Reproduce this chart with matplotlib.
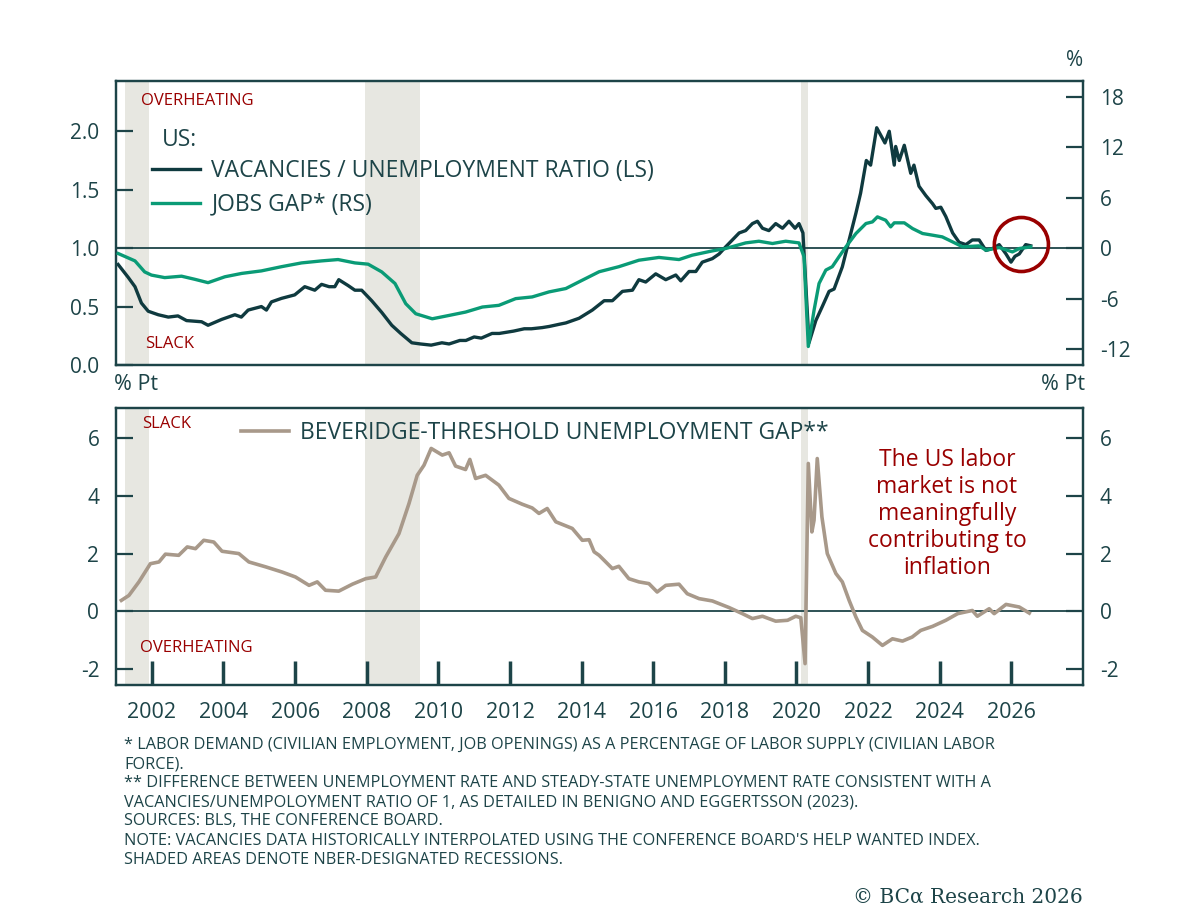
import matplotlib
matplotlib.use("Agg")
import matplotlib.pyplot as plt
from matplotlib.patches import Ellipse

plt.rcParams['font.family'] = ['Open Sans', 'DejaVu Sans']
plt.rcParams['font.weight'] = 'medium'
plt.rcParams['axes.unicode_minus'] = False

# colores
DARK = '#0f3a3f'
GREEN = '#0a9b76'
TAN = '#a8998a'
RED = '#990000'
SPINE = '#1d4448'
SHADE = '#e7e7e1'

# recesiones NBER (año decimal)
rec_start = [2001.25, 2007.95, 2020.12]
rec_end = [2001.92, 2009.50, 2020.33]

# ratio vacantes / desempleo (eje izq.)
vu_t = [2001.06, 2001.34, 2001.53, 2001.71, 2001.90, 2002.18, 2002.46, 2002.73, 2002.97,
        2003.39, 2003.57, 2003.95, 2004.32, 2004.50, 2004.69, 2005.06, 2005.20, 2005.34,
        2005.62, 2005.99, 2006.27, 2006.55, 2006.74, 2006.95, 2007.11, 2007.22, 2007.48,
        2007.67, 2007.86, 2008.14, 2008.42, 2008.70, 2008.95, 2009.26, 2009.50, 2009.80,
        2010.10, 2010.30, 2010.60, 2010.77, 2011.00, 2011.20, 2011.50, 2011.70, 2012.10,
        2012.40, 2012.60, 2012.90, 2013.10, 2013.40, 2013.56, 2013.93, 2014.30, 2014.63,
        2014.86, 2015.14, 2015.42, 2015.60, 2015.79, 2016.07, 2016.35, 2016.63, 2016.77,
        2017.00, 2017.19, 2017.37, 2017.65, 2017.84, 2018.02, 2018.40, 2018.58, 2018.77,
        2018.91, 2019.05, 2019.23, 2019.42, 2019.61, 2019.79, 2019.96, 2020.07, 2020.18,
        2020.35, 2020.54, 2020.72, 2020.91, 2021.05, 2021.28, 2021.47, 2021.66, 2021.79,
        2021.95, 2022.07, 2022.24, 2022.47, 2022.59, 2022.73, 2022.77, 2022.87, 2023.01,
        2023.19, 2023.28, 2023.42, 2023.61, 2023.80, 2023.89, 2024.03, 2024.17, 2024.36,
        2024.54, 2024.73, 2024.91, 2025.10, 2025.29, 2025.50, 2025.66, 2025.85, 2025.99,
        2026.10, 2026.22, 2026.40, 2026.54]
vu = [0.86, 0.75, 0.67, 0.53, 0.46, 0.43, 0.41, 0.42, 0.38,
      0.37, 0.34, 0.39, 0.43, 0.41, 0.47, 0.50, 0.47, 0.54,
      0.57, 0.60, 0.67, 0.64, 0.69, 0.67, 0.67, 0.73, 0.68,
      0.64, 0.64, 0.55, 0.45, 0.34, 0.27, 0.19, 0.18, 0.17,
      0.19, 0.18, 0.21, 0.21, 0.24, 0.23, 0.27, 0.27, 0.29,
      0.31, 0.31, 0.32, 0.33, 0.35, 0.36, 0.40, 0.47, 0.55,
      0.55, 0.63, 0.64, 0.73, 0.71, 0.78, 0.73, 0.77, 0.72,
      0.80, 0.80, 0.88, 0.91, 0.95, 1.01, 1.13, 1.15, 1.21,
      1.23, 1.17, 1.15, 1.21, 1.17, 1.23, 1.17, 1.21, 1.13,
      0.19, 0.38, 0.50, 0.63, 0.65, 0.84, 1.07, 1.30, 1.47,
      1.75, 1.71, 2.03, 1.90, 2.00, 1.71, 1.87, 1.75, 1.88,
      1.64, 1.71, 1.53, 1.45, 1.38, 1.34, 1.35, 1.27, 1.13,
      1.05, 1.03, 1.07, 1.07, 0.98, 1.00, 1.03, 0.95, 0.88,
      0.93, 0.95, 1.03, 1.02]

# jobs gap, % (eje der.)
jg_t = [2001.06, 2001.53, 2001.80, 2001.99, 2002.36, 2002.83, 2003.20, 2003.57, 2004.04,
        2004.51, 2005.06, 2005.62, 2006.18, 2006.74, 2007.20, 2007.67, 2008.04, 2008.42,
        2008.79, 2009.09, 2009.37, 2009.83, 2010.30, 2010.76, 2011.23, 2011.69, 2012.16,
        2012.62, 2013.09, 2013.56, 2013.93, 2014.49, 2015.04, 2015.60, 2016.16, 2016.72,
        2017.09, 2017.65, 2018.02, 2018.58, 2018.95, 2019.33, 2019.70, 2020.07, 2020.21,
        2020.33, 2020.49, 2020.63, 2020.82, 2021.00, 2021.19, 2021.38, 2021.66, 2021.94,
        2022.12, 2022.26, 2022.49, 2022.63, 2022.73, 2023.01, 2023.24, 2023.52, 2023.80,
        2024.07, 2024.36, 2024.64, 2025.10, 2025.29, 2025.66, 2026.03, 2026.22, 2026.54]
jg = [-0.63, -1.51, -2.82, -3.20, -3.50, -3.33, -3.70, -4.10, -3.40,
      -3.00, -2.70, -2.20, -1.75, -1.51, -1.35, -1.75, -1.90, -2.82,
      -4.20, -6.60, -7.80, -8.40, -8.00, -7.60, -7.00, -6.80, -6.00,
      -5.80, -5.20, -4.80, -4.00, -2.80, -2.20, -1.43, -1.10, -1.35,
      -0.83, -0.32, -0.04, 0.63, 0.83, 0.56, 0.83, 0.63, -1.00,
      -11.70, -7.40, -4.20, -2.60, -2.20, -1.00, 0.16, 1.75, 2.94,
      3.13, 3.73, 3.33, 2.54, 3.02, 3.02, 2.34, 1.75, 1.55,
      1.35, 0.75, 0.16, 0.28, -0.24, 0.08, -0.44, -0.04, 0.16]

# brecha de desempleo Beveridge, pp
bv_t = [2001.15, 2001.36, 2001.64, 2001.96, 2002.20, 2002.38, 2002.75, 2002.99, 2003.22,
        2003.45, 2003.73, 2003.96, 2004.43, 2004.71, 2005.18, 2005.64, 2006.01, 2006.39,
        2006.62, 2006.85, 2007.22, 2007.60, 2007.97, 2008.25, 2008.53, 2008.90, 2009.18,
        2009.41, 2009.60, 2009.80, 2010.11, 2010.30, 2010.48, 2010.76, 2010.88, 2011.04,
        2011.32, 2011.69, 2011.97, 2012.34, 2012.62, 2012.81, 2013.04, 2013.28, 2013.74,
        2014.02, 2014.21, 2014.35, 2014.49, 2014.86, 2015.04, 2015.32, 2015.60, 2015.88,
        2016.11, 2016.35, 2016.72, 2016.95, 2017.28, 2017.65, 2018.12, 2018.49, 2018.77,
        2019.05, 2019.42, 2019.75, 2019.98, 2020.12, 2020.24, 2020.33, 2020.43, 2020.49,
        2020.58, 2020.71, 2020.86, 2021.10, 2021.28, 2021.47, 2021.66, 2021.84, 2022.12,
        2022.40, 2022.68, 2022.96, 2023.23, 2023.47, 2023.80, 2024.17, 2024.50, 2024.91,
        2025.05, 2025.38, 2025.52, 2025.85, 2026.22, 2026.50]
bv = [0.38, 0.55, 1.02, 1.65, 1.71, 1.98, 1.94, 2.23, 2.17,
      2.46, 2.40, 2.08, 2.00, 1.71, 1.54, 1.36, 1.19, 0.90,
      1.02, 0.73, 0.70, 0.94, 1.13, 1.19, 1.88, 2.69, 3.73,
      4.71, 5.06, 5.64, 5.41, 5.49, 5.03, 4.91, 5.26, 4.60,
      4.71, 4.37, 3.91, 3.71, 3.58, 3.39, 3.56, 3.10, 2.87,
      2.46, 2.48, 2.06, 1.94, 1.48, 1.56, 1.13, 1.02, 0.96,
      0.67, 0.90, 0.94, 0.61, 0.44, 0.36, 0.13, -0.08, -0.25,
      -0.17, -0.34, -0.31, -0.17, -0.22, -1.81, 5.12, 2.75, 3.15,
      5.29, 3.27, 2.00, 1.31, 1.02, 0.38, -0.20, -0.66, -0.89,
      -1.18, -0.95, -1.03, -0.89, -0.66, -0.52, -0.31, -0.08, 0.03,
      -0.17, 0.09, -0.08, 0.24, 0.15, -0.06]

years = list(range(2002, 2027, 2))
left_ticks = [0.0, 0.5, 1.0, 1.5, 2.0]
right_ticks = [-12, -6, 0, 6, 12, 18]
bot_ticks = [-2, 0, 2, 4, 6]

W, H = 1200, 910
fig = plt.figure(figsize=(12, 9.1), dpi=100)
ax1 = fig.add_axes([116 / W, 1 - 365 / H, 967 / W, 284 / H])
ax2 = fig.add_axes([116 / W, 1 - 685 / H, 967 / W, 277 / H])


def px(x, y):
    return x / W, 1 - y / H


def style(ax):
    for s in ax.spines.values():
        s.set_color(SPINE)
        s.set_linewidth(1.6)
    ax.tick_params(direction='in', length=12, width=1.6, color=SPINE,
                   labelcolor=SPINE, labelsize=15, pad=12)


for ax in (ax1, ax2):
    ax.set_xlim(2001.0, 2028.0)
    for a, b in zip(rec_start, rec_end):
        ax.axvspan(a, b, color=SHADE, lw=0, zorder=0)

# panel superior
style(ax1)
ax1.set_ylim(0, 2.43)
ax1.set_yticks(left_ticks)
ax1.set_yticklabels([f'{v:.1f}' for v in left_ticks])
ax1.set_xticks(years)
ax1.tick_params(axis='x', bottom=False, labelbottom=False)
ax1.axhline(1.0, color=SPINE, lw=1.3, zorder=1)
l1, = ax1.plot(vu_t, vu, color=DARK, lw=2.4, zorder=3,
               label='VACANCIES / UNEMPLOYMENT RATIO (LS)')
ax1r = ax1.twinx()
style(ax1r)
ax1r.set_ylim(-13.9, 19.9)
ax1r.set_yticks(right_ticks)
ax1r.set_yticklabels([str(v) for v in right_ticks])
l2, = ax1r.plot(jg_t, jg, color=GREEN, lw=2.4, zorder=4, label='JOBS GAP* (RS)')
ax1r.add_patch(Ellipse((2026.28, 0.44), 1.51, 6.43, fill=False, ec=RED, lw=2.6, zorder=5))
ax1r.legend(handles=[l1, l2], loc='upper left', bbox_to_anchor=(0.037, 0.724),
            frameon=False, fontsize=16.5, handlelength=2.1, handletextpad=0.5,
            labelspacing=0.4, borderpad=0, borderaxespad=0, labelcolor=SPINE)

# panel inferior
style(ax2)
ax2.set_ylim(-2.55, 7.04)
ax2.set_yticks(bot_ticks)
ax2.set_yticklabels([str(v) for v in bot_ticks])
ax2.set_xticks(years)
ax2.set_xticklabels([str(y) for y in years])
ax2.tick_params(axis='x', length=17, width=2.5, labelsize=15.5, pad=12)
ax2.axhline(0, color=SPINE, lw=1.3, zorder=1)
l3, = ax2.plot(bv_t, bv, color=TAN, lw=2.6, zorder=3,
               label='BEVERIDGE-THRESHOLD UNEMPLOYMENT GAP**')
ax2.legend(handles=[l3], loc='upper left', bbox_to_anchor=(0.129, 0.953),
           frameon=False, fontsize=16.5, handlelength=2.1, handletextpad=0.5,
           borderpad=0, borderaxespad=0, labelcolor=SPINE)
ax2r = ax2.twinx()
style(ax2r)
ax2r.set_ylim(-2.55, 7.04)
ax2r.set_yticks(bot_ticks)
ax2r.set_yticklabels([str(v) for v in bot_ticks])

# textos
fig.text(*px(162, 140), 'US:', fontsize=16.5, color=SPINE, va='center')
fig.text(*px(141, 101), 'OVERHEATING', fontsize=12, color=RED, va='center')
fig.text(*px(145, 344), 'SLACK', fontsize=12, color=RED, va='center')
fig.text(*px(142, 424), 'SLACK', fontsize=12, color=RED, va='center')
fig.text(*px(140, 648), 'OVERHEATING', fontsize=12, color=RED, va='center')
fig.text(*px(1083, 60), '%', fontsize=15, color=SPINE, va='center', ha='right')
fig.text(*px(114, 385), '% Pt', fontsize=15.5, color=SPINE, va='center', ha='left')
fig.text(*px(1085, 385), '% Pt', fontsize=15.5, color=SPINE, va='center', ha='right')
fig.text(*px(947, 514), 'The US labor\nmarket is not\nmeaningfully\ncontributing to\ninflation',
         fontsize=16.5, color=RED, ha='center', va='center', linespacing=1.18)

notes = ("* LABOR DEMAND (CIVILIAN EMPLOYMENT, JOB OPENINGS) AS A PERCENTAGE OF LABOR SUPPLY (CIVILIAN LABOR\n"
         "FORCE).\n"
         "** DIFFERENCE BETWEEN UNEMPLOYMENT RATE AND STEADY-STATE UNEMPLOYMENT RATE CONSISTENT WITH A\n"
         "VACANCIES/UNEMPOLOYMENT RATIO OF 1, AS DETAILED IN BENIGNO AND EGGERTSSON (2023).\n"
         "SOURCES: BLS, THE CONFERENCE BOARD.\n"
         "NOTE: VACANCIES DATA HISTORICALLY INTERPOLATED USING THE CONFERENCE BOARD'S HELP WANTED INDEX.\n"
         "SHADED AREAS DENOTE NBER-DESIGNATED RECESSIONS.")
fig.text(*px(124, 737), notes, fontsize=11.7, color=SPINE, va='top', ha='left', linespacing=1.26)
fig.text(*px(1083, 897), '© BCα Research 2026', fontsize=14.5, color=SPINE,
         family='DejaVu Serif', ha='right', va='center')

fig.savefig('out.png', dpi=100)
